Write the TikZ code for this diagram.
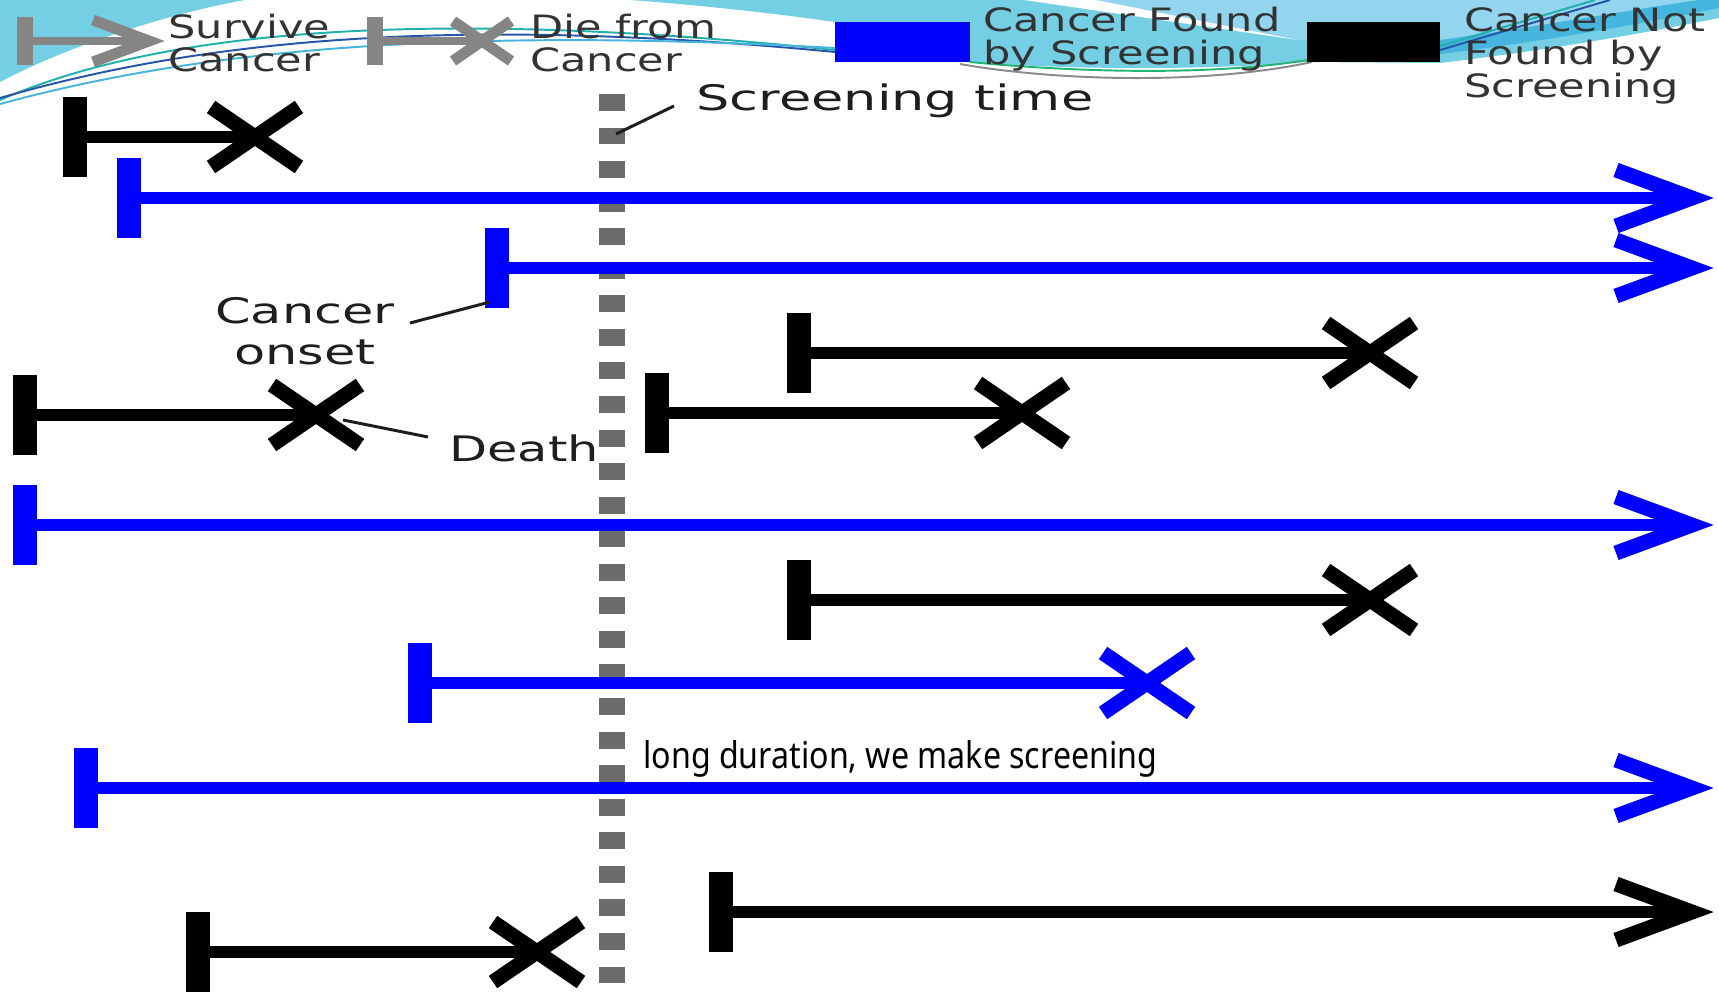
\documentclass[tikz,border=0pt]{standalone}
\usepackage{fontspec}
\setmainfont{DejaVu Sans}
\newfontfamily\overlayfont{Noto Sans}
\usetikzlibrary{calc}
\definecolor{cyanA}{HTML}{74CFE4}
\definecolor{cyanL}{HTML}{93D5EE}
\definecolor{cyanD}{HTML}{45B5DD}
\definecolor{lnTeal}{HTML}{1FB0AE}
\definecolor{lnNavy}{HTML}{2455A8}
\definecolor{lnGreen}{HTML}{22B573}
\definecolor{lnGray}{HTML}{8A8A8A}
\definecolor{iconGray}{HTML}{858585}
\definecolor{dashGray}{HTML}{6B6B6B}
\definecolor{txtGray}{HTML}{333333}
\definecolor{txtDark}{HTML}{1E1E1E}
\newcommand\lifedie[5]{%
  \coordinate (#1s) at (#3,#5);
  \coordinate (#1e) at (#4,#5);
  \draw[tl,#2] (#1s) -- (#1e);
  \pic[#2] at (#1s) {onsetbar};
  \pic[#2] at (#1e) {deathx};
}
\newcommand\lifesurv[4]{%
  \coordinate (#1s) at (#3,#4);
  \coordinate (#1e) at (1692,#4);
  \draw[tl,#2] (#1s) -- ($(#1e)+(-8,0)$);
  \pic[#2] at (#1s) {onsetbar};
  \pic[#2] at (#1e) {survhead};
}
\begin{document}
\begin{tikzpicture}[x=0.02cm,y=-0.02cm,
  tl/.style={line width=6.8pt},
  pics/onsetbar/.style={code={\draw[line width=14.2pt] (0,-40) -- (0,40);}},
  pics/deathx/.style={code={\draw[line width=8.5pt] (-44,-30) -- (44,30) (-44,30) -- (44,-30);}},
  pics/survhead/.style={code={\draw[line width=8.5pt,miter limit=10] (-76,-28) -- (0,0) -- (-76,28);}},
  legtxt/.style={font=\fontsize{18.3}{18.6}\selectfont, text=txtGray, align=left, inner sep=0, anchor=west, xscale=1.34, transform shape},
  lbl/.style={font=\fontsize{20}{23.5}\selectfont, text=txtDark, inner sep=0, xscale=1.45, transform shape},
  leader/.style={draw=txtDark, line width=1.7pt},
  scrdash/.style={draw=dashGray, line width=15.3pt, dash pattern=on 9.64pt off 9.46pt},
  thinln/.style={line width=1.1pt}
]
\useasboundingbox (0,0) rectangle (1719,994);
\fill[white] (0,0) rectangle (1719,994);
\begin{scope}
\clip (0,0) rectangle (1719,994);
% top decoration
\fill[cyanA] (0,0) -- (245,0) .. controls (160,15) and (60,50) .. (0,82) -- cycle;
\fill[cyanA] (630,0) .. controls (700,5) and (780,14) .. (835,22) -- (835,62) -- (970,62)
  .. controls (1050,69) and (1200,71) .. (1307,62) -- (1440,63)
  .. controls (1550,50) and (1650,32) .. (1719,18) -- (1719,0) -- cycle;
\fill[cyanL] (1096,0) -- (1298,40) -- (1440,40) .. controls (1550,25) and (1640,8) .. (1700,0) -- cycle;
\fill[cyanD] (1440,40) .. controls (1550,25) and (1640,8) .. (1700,0) -- (1719,0) -- (1719,8)
  .. controls (1640,24) and (1540,42) .. (1440,54) -- cycle;
\fill[white] (1024,0) -- (1096,0) -- (1298,40) -- cycle;
\draw[thinln,lnTeal] (0,100) .. controls (150,35) and (400,5) .. (835,50);
\draw[thinln,lnNavy] (0,98) .. controls (200,40) and (450,15) .. (835,52);
\draw[thinln,cyanD] (0,104) .. controls (180,55) and (420,25) .. (835,48);
\draw[thinln,lnGreen] (970,62) .. controls (1050,70) and (1200,78) .. (1307,60);
\draw[thinln,lnGray] (960,64) .. controls (1050,80) and (1200,86) .. (1312,62);
\draw[thinln,lnTeal] (1440,46) -- (1595,0);
\draw[thinln,lnNavy] (1440,50) -- (1610,0);
\end{scope}
% legend icons
\coordinate (lgsS) at (25,41);
\coordinate (lgsE) at (149,41);
\draw[iconGray,line width=5pt] (lgsS) -- (lgsE);
\draw[iconGray,line width=9.6pt] ($(lgsS)+(0,-24)$) -- ($(lgsS)+(0,24)$);
\draw[iconGray,line width=6.2pt,miter limit=10] ($(lgsE)+(-56,-21)$) -- (lgsE) -- ($(lgsE)+(-56,21)$);
\coordinate (lgdS) at (375,41);
\coordinate (lgdE) at (482,41);
\draw[iconGray,line width=5pt] (lgdS) -- (lgdE);
\draw[iconGray,line width=9.6pt] ($(lgdS)+(0,-24)$) -- ($(lgdS)+(0,24)$);
\draw[iconGray,line width=6.2pt] ($(lgdE)+(-29,-20)$) -- ($(lgdE)+(29,20)$) ($(lgdE)+(-29,20)$) -- ($(lgdE)+(29,-20)$);
\node (lgblue) [fill=blue, inner sep=0, minimum width=2.7cm, minimum height=0.8cm] at (902.5,42) {};
\node (lgblack) [fill=black, inner sep=0, minimum width=2.66cm, minimum height=0.8cm] at (1373.5,42) {};
\node (lt1) [legtxt] at (168,43) {Survive\\Cancer};
\node (lt2) [legtxt] at (530,43) {Die from\\Cancer};
\node (lt3) [legtxt] at (983,39) {Cancer Found\\by Screening};
\node (lt4) [legtxt] at (1464,56) {Cancer Not\\Found by\\Screening};
% screening line
\coordinate (scrtop) at (612,94);
\coordinate (scrbot) at (612,994);
\draw[scrdash] (scrtop) -- (scrbot);
% timelines
\lifedie{r1}{black}{75}{255}{137}
\lifesurv{r2}{blue}{129}{198}
\lifesurv{r3}{blue}{497}{268}
\lifedie{r4}{black}{799}{1370}{353}
\lifedie{r5}{black}{25}{316}{415}
\lifedie{r6}{black}{657}{1022}{413}
\lifesurv{r7}{blue}{25}{525}
\lifedie{r8}{black}{799}{1370}{600}
\lifedie{r9}{blue}{420}{1147}{683}
\lifesurv{r10}{blue}{86}{788}
\lifesurv{r11}{black}{721}{912}
\lifedie{r12}{black}{198}{537}{952}
% labels
\node (sttxt) [lbl, anchor=west, xscale=1.03] at (696,101) {Screening time};
\coordinate (stA) at (616,134);
\coordinate (stB) at (674,106);
\draw[leader] (stA) -- (stB);
\node (ontxt) [lbl, align=center] at (305,331) {Cancer\\onset};
\coordinate (onA) at (410,323);
\coordinate (onB) at (490,302);
\draw[leader] (onA) -- (onB);
\node (detxt) [lbl, anchor=west, xscale=0.97] at (449,448) {Death};
\coordinate (deA) at (343,420);
\coordinate (deB) at (428,437);
\draw[leader] (deA) -- (deB);
\node (longtxt) [anchor=west, inner sep=0, font=\overlayfont\fontsize{21}{23}\selectfont] at (643,759) {\resizebox{10.28cm}{\height}{long duration, we make screening}};
\end{tikzpicture}
\end{document}
